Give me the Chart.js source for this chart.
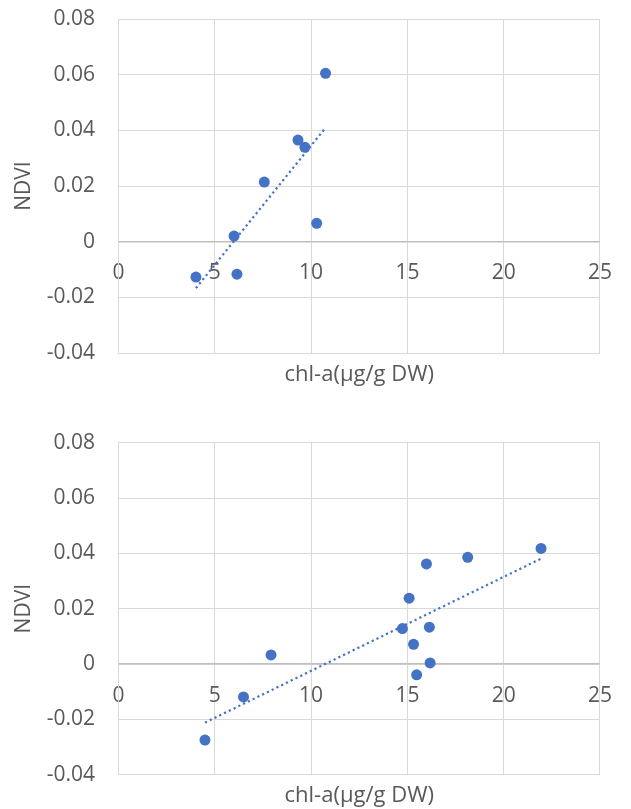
<!DOCTYPE html>
<html><head><meta charset="utf-8">
<script src="https://cdn.jsdelivr.net/npm/chart.js@4.4.0/dist/chart.umd.min.js"></script>
<style>
html,body{margin:0;padding:0;background:#fff;}
#c1{position:absolute;left:0;top:0;}
#c2{position:absolute;left:0;top:400px;}
</style></head><body>
<canvas id="c1" width="631" height="400"></canvas>
<canvas id="c2" width="631" height="409"></canvas>
<script>
const xTickLabels = ['0','5','10','15','20','25'];
const yTickLabels = ['-0.04','-0.02','0','0.02','0.04','0.06','0.08'];
const xTitle = 'chl-a(µg/g DW)';
const yTitle = 'NDVI';

const topChlA = [4.02, 6.00, 6.15, 7.57, 9.32, 9.68, 10.29, 10.75];
const topNdvi = [-0.0127, 0.0020, -0.0117, 0.0214, 0.0365, 0.0339, 0.0066, 0.0605];
const topTrendX = [4.02, 10.69];
const topTrendY = [-0.0167, 0.0404];

const botChlA = [4.49, 6.49, 7.92, 14.74, 15.09, 15.32, 15.48, 15.99, 16.14, 16.18, 18.13, 21.94];
const botNdvi = [-0.0275, -0.0119, 0.0033, 0.0128, 0.0238, 0.0071, -0.0039, 0.0362, 0.0133, 0.0004, 0.0386, 0.0418];
const botTrendX = [4.49, 21.91];
const botTrendY = [-0.0212, 0.0380];

const FONT = "'Open Sans', 'Noto Sans', sans-serif";
const TXT = '#595959';
const GRID = '#d9d9d9';
const BLUE = '#4472C4';

function pts(xs, ys){ return xs.map((x,i)=>({x:x, y:ys[i]})); }

function makeChart(id, xs, ys, tx, ty, padTop, titlePad){
  return new Chart(document.getElementById(id), {
    type: 'scatter',
    data: {
      datasets: [
        { data: pts(tx, ty), showLine: true, pointRadius: 0, borderColor: BLUE,
          borderWidth: 2.2, borderDash: [2.2, 3.1], fill: false },
        { data: pts(xs, ys), pointRadius: 5.5, pointHoverRadius: 5.5,
          backgroundColor: BLUE, borderWidth: 0 }
      ]
    },
    options: {
      responsive: false, animation: false,
      layout: { padding: { top: padTop, right: 25.5, left: 0, bottom: 0 } },
      plugins: {
        legend: { display: false }, tooltip: { enabled: false },
        title: { display: true, position: 'bottom', fullSize: false, text: xTitle, color: TXT,
          font: { family: FONT, size: 22, weight: 'normal' }, padding: titlePad }
      },
      scales: {
        x: {
          type: 'linear', position: { y: 0 }, min: 0, max: 25,
          grid: { color: GRID, lineWidth: 1, drawTicks: false },
          border: { display: true, color: '#bfbfbf', width: 1.6 },
          ticks: { stepSize: 5, padding: 19, color: TXT, font: { family: FONT, size: 21 },
            maxRotation: 0, autoSkip: false,
            callback: (v, i) => xTickLabels[i] }
        },
        y: {
          type: 'linear', position: 'left', min: -0.04, max: 0.08,
          afterFit: (s) => { s.width = 118.5; },
          grid: { color: GRID, lineWidth: 1, drawTicks: true, tickLength: 20.5, tickColor: 'rgba(0,0,0,0)' },
          border: { display: true, color: GRID, width: 1 },
          ticks: { stepSize: 0.02, padding: 3, color: TXT, font: { family: FONT, size: 21 },
            autoSkip: false, callback: (v, i) => yTickLabels[i] },
          title: { display: true, text: yTitle, color: TXT,
            font: { family: FONT, size: 21 }, padding: { top: 11, bottom: 0 } }
        }
      }
    }
  });
}

makeChart('c1', topChlA, topNdvi, topTrendX, topTrendY, 19, { top: 8.8, bottom: 11.8 });
makeChart('c2', botChlA, botNdvi, botTrendX, botTrendY, 42.8, { top: 8, bottom: 0 });
</script>
</body></html>
